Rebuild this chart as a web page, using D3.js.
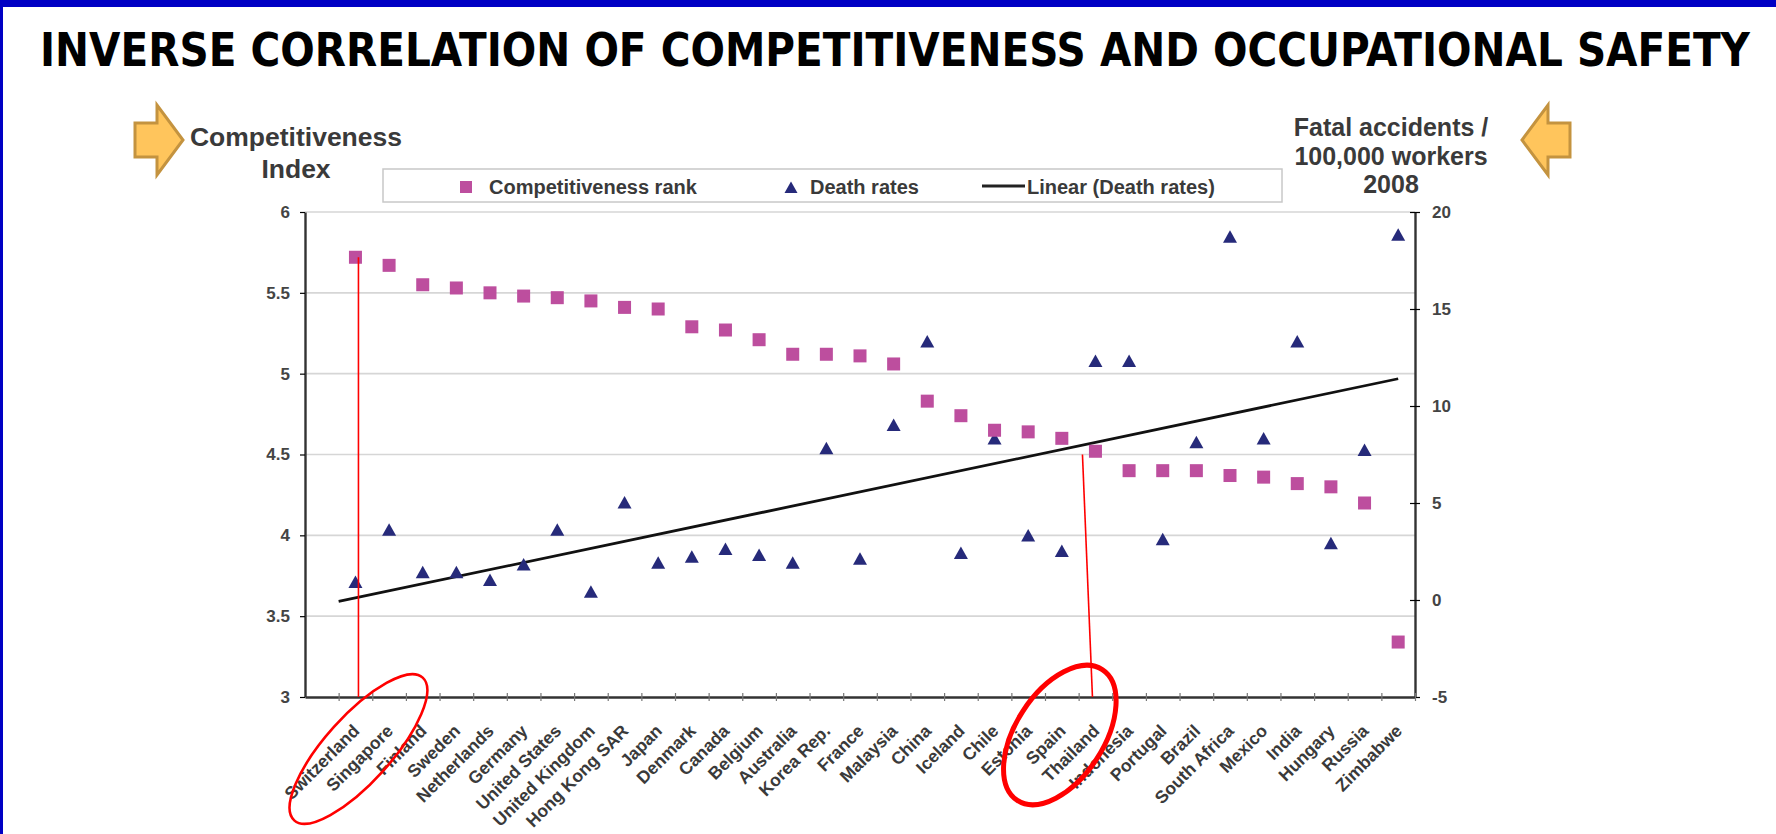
<!DOCTYPE html>
<html>
<head>
<meta charset="utf-8">
<script src="https://cdnjs.cloudflare.com/ajax/libs/d3/7.8.5/d3.min.js"></script>
<style>
body { margin: 0; background: #fff; overflow: hidden; }
</style>
</head>
<body>
<div id="chart"></div>
<script>
// Data
var countries = ["Switzerland", "Singapore", "Finland", "Sweden", "Netherlands", "Germany", "United States",
	"United Kingdom", "Hong Kong SAR", "Japan", "Denmark", "Canada", "Belgium", "Australia", "Korea Rep.",
	"France", "Malaysia", "China", "Iceland", "Chile", "Estonia", "Spain", "Thailand", "Indonesia",
	"Portugal", "Brazil", "South Africa", "Mexico", "India", "Hungary", "Russia", "Zimbabwe"];

var competitiveness = [5.72, 5.67, 5.55, 5.53, 5.50, 5.48, 5.47, 5.45, 5.41, 5.40, 5.29, 5.27, 5.21, 5.12, 5.12,
	5.11, 5.06, 4.83, 4.74, 4.65, 4.64, 4.60, 4.52, 4.40, 4.40, 4.40, 4.37, 4.36, 4.32, 4.30, 4.20, 3.34];

var deathRates = [0.9, 3.6, 1.4, 1.4, 1.0, 1.8, 3.6, 0.4, 5.0, 1.9, 2.2, 2.6, 2.3, 1.9, 7.8,
	2.1, 9.0, 13.3, 2.4, 8.3, 3.3, 2.5, 12.3, 12.3, 3.1, 8.1, 18.7, 8.3, 13.3, 2.9, 7.7, 18.8];

var leftTicks = [3, 3.5, 4, 4.5, 5, 5.5, 6];
var rightTicks = [-5, 0, 5, 10, 15, 20];

var title = "INVERSE CORRELATION OF COMPETITIVENESS AND OCCUPATIONAL SAFETY";
var leftTitle = ["Competitiveness", "Index"];
var rightTitle = ["Fatal accidents /", "100,000 workers", "2008"];
var legendLabels = ["Competitiveness rank", "Death rates", "Linear (Death rates)"];

// Colours
var pink = "#BD4E9E", navy = "#262A7A", grid = "#D6D6D6", axisColor = "#333", textColor = "#3a3a3a";
var font = "'Liberation Sans', Arial, sans-serif";

// Svg
var svg = d3.select("#chart")
	.append("svg")
	.attr("width", 1776)
	.attr("height", 834)
	.style("font-family", font);

// Blue frame (top and left)
svg.append("rect").attr("x", 0).attr("y", 0).attr("width", 1776).attr("height", 7).attr("fill", "#0000C4");
svg.append("rect").attr("x", 0).attr("y", 0).attr("width", 3).attr("height", 834).attr("fill", "#0000C4");

// Title (a bit stretched vertically, like the original)
svg.append("text")
	.attr("transform", "translate(40,66) scale(1,1.14)")
	.attr("textLength", 1710)
	.attr("lengthAdjust", "spacingAndGlyphs")
	.style("font-family", "'DejaVu Sans', sans-serif")
	.style("font-weight", "bold")
	.style("font-size", "40px")
	.attr("fill", "#000")
	.text(title);

var plot = {"left": 305, "right": 1415, "top": 212, "bottom": 697};

// slot 0 stays empty, country i sits in slot i+1
var x = d3.scaleLinear().domain([0, countries.length + 1]).range([plot.left, plot.right]);
var yL = d3.scaleLinear().domain([3, 6]).range([plot.bottom, plot.top]);
var yR = d3.scaleLinear().domain([-5, 20]).range([plot.bottom, plot.top]);

function cx(i)
{
	return x(i + 1.5);
}

// Gridlines
svg.append("g").selectAll("line")
	.data(leftTicks.filter(function(d){return d > 3;}))
	.enter()
		.append("line")
		.attr("x1", plot.left)
		.attr("x2", plot.right)
		.attr("y1", function(d){return yL(d);})
		.attr("y2", function(d){return yL(d);})
		.attr("stroke", grid)
		.attr("stroke-width", 1.6);

// Axes
var leftAxis = svg.append("g")
	.attr("transform", "translate(" + plot.left + ",0)")
	.call(d3.axisLeft(yL).tickValues(leftTicks).tickSize(5).tickSizeOuter(0).tickPadding(10).tickFormat(function(d){return String(d);}));

var rightAxis = svg.append("g")
	.attr("transform", "translate(" + plot.right + ",0)")
	.call(d3.axisRight(yR).tickValues(rightTicks).tickSize(5).tickSizeOuter(0).tickPadding(12).tickFormat(function(d){return String(d);}));
rightAxis.selectAll(".tick line").attr("x1", -5);

var bottomAxis = svg.append("g")
	.attr("transform", "translate(0," + plot.bottom + ")")
	.call(d3.axisBottom(x).tickValues(d3.range(1, countries.length + 2)).tickSize(4).tickSizeOuter(0).tickFormat(""));
bottomAxis.selectAll(".tick line").attr("y1", -4).attr("stroke", "#777");

[leftAxis, rightAxis, bottomAxis].forEach(function(a)
{
	a.select(".domain").attr("stroke", axisColor).attr("stroke-width", 2.4);
	a.selectAll(".tick line").attr("stroke-width", 1.2);
	a.selectAll("text")
		.style("font-family", font)
		.style("font-weight", "bold")
		.style("font-size", "17px")
		.attr("fill", "#444");
});

// Country labels, rotated
svg.append("g").selectAll("text")
	.data(countries)
	.enter()
		.append("text")
		.attr("transform", function(d, i){return "translate(" + (cx(i) + 5) + "," + (plot.bottom + 35) + ") rotate(-45)";})
		.attr("text-anchor", "end")
		.style("font-weight", "bold")
		.style("font-size", "17.5px")
		.attr("fill", textColor)
		.text(function(d){return d;});

// Linear trendline of death rates (least squares on x = 1..n)
var n = deathRates.length;
var xs = d3.range(1, n + 1);
var mx = d3.mean(xs), my = d3.mean(deathRates);
var slope = d3.sum(xs, function(v, k){return (v - mx) * (deathRates[k] - my);}) / d3.sum(xs, function(v){return (v - mx) * (v - mx);});
var intercept = my - slope * mx;

svg.append("line")
	.attr("x1", x(0.5 + 0.5))
	.attr("y1", yR(intercept + slope * 0.5))
	.attr("x2", x(n + 0.5))
	.attr("y2", yR(intercept + slope * n))
	.attr("stroke", "#111")
	.attr("stroke-width", 2.8);

// Death rates (triangles)
svg.append("g").selectAll("path")
	.data(deathRates)
	.enter()
		.append("path")
		.attr("d", "M0,-7L7,5.5L-7,5.5Z")
		.attr("transform", function(d, i){return "translate(" + cx(i) + "," + yR(d) + ")";})
		.attr("fill", navy);

// Competitiveness (squares)
svg.append("g").selectAll("rect")
	.data(competitiveness)
	.enter()
		.append("rect")
		.attr("x", function(d, i){return cx(i) - 6.5;})
		.attr("y", function(d){return yL(d) - 6.5;})
		.attr("width", 13)
		.attr("height", 13)
		.attr("fill", pink);

// Legend
var legend = svg.append("g");
legend.append("rect")
	.attr("x", 383).attr("y", 169).attr("width", 899).attr("height", 33)
	.attr("fill", "#fff").attr("stroke", "#c8c8c8").attr("stroke-width", 1.5);
legend.append("rect").attr("x", 460).attr("y", 181).attr("width", 12).attr("height", 12).attr("fill", pink);
legend.append("path").attr("d", "M0,-6.5L6.5,5L-6.5,5Z").attr("transform", "translate(791,188)").attr("fill", navy);
legend.append("line").attr("x1", 982).attr("x2", 1025).attr("y1", 186).attr("y2", 186).attr("stroke", "#222").attr("stroke-width", 3);
legend.selectAll("text")
	.data(legendLabels)
	.enter()
		.append("text")
		.attr("x", function(d, i){return [489, 810, 1027][i];})
		.attr("y", 194)
		.style("font-weight", "bold")
		.style("font-size", "20px")
		.attr("fill", textColor)
		.text(function(d){return d;});

// Axis titles
svg.append("g").selectAll("text")
	.data(leftTitle)
	.enter()
		.append("text")
		.attr("x", 296)
		.attr("y", function(d, i){return 146 + i * 32;})
		.attr("text-anchor", "middle")
		.style("font-weight", "bold")
		.style("font-size", "26.5px")
		.attr("fill", textColor)
		.text(function(d){return d;});

svg.append("g").selectAll("text")
	.data(rightTitle)
	.enter()
		.append("text")
		.attr("x", 1391)
		.attr("y", function(d, i){return 136 + i * 28.5;})
		.attr("text-anchor", "middle")
		.style("font-weight", "bold")
		.style("font-size", "25px")
		.attr("fill", textColor)
		.text(function(d){return d;});

// Arrows
var arrowRight = "M0,18 L22,18 L22,0 L48,35 L22,70 L22,52 L0,52 Z";
svg.append("path").attr("d", arrowRight).attr("transform", "translate(135,105)")
	.attr("fill", "#FFC55C").attr("stroke", "#C4933F").attr("stroke-width", 3).attr("stroke-linejoin", "miter");
svg.append("path").attr("d", arrowRight).attr("transform", "translate(1570,105) scale(-1,1)")
	.attr("fill", "#FFC55C").attr("stroke", "#C4933F").attr("stroke-width", 3).attr("stroke-linejoin", "miter");

// Red annotations
var red = svg.append("g").attr("fill", "none").attr("stroke", "#FF0000");
red.append("line")
	.attr("x1", cx(0) + 3).attr("y1", yL(competitiveness[0]))
	.attr("x2", cx(0) + 3).attr("y2", plot.bottom)
	.attr("stroke-width", 1.6);
red.append("ellipse")
	.attr("transform", "translate(" + (cx(0) + 3) + "," + (plot.bottom + 52) + ") rotate(-48)")
	.attr("rx", 96).attr("ry", 33)
	.attr("stroke-width", 2.6);
red.append("line")
	.attr("x1", cx(22) - 13).attr("y1", yL(4.5))
	.attr("x2", cx(22) - 3).attr("y2", plot.bottom)
	.attr("stroke-width", 1.6);
red.append("ellipse")
	.attr("transform", "translate(" + (cx(21) - 2) + "," + (plot.bottom + 38) + ") rotate(-57)")
	.attr("rx", 78).attr("ry", 44)
	.attr("stroke-width", 5);
</script>
</body>
</html>
